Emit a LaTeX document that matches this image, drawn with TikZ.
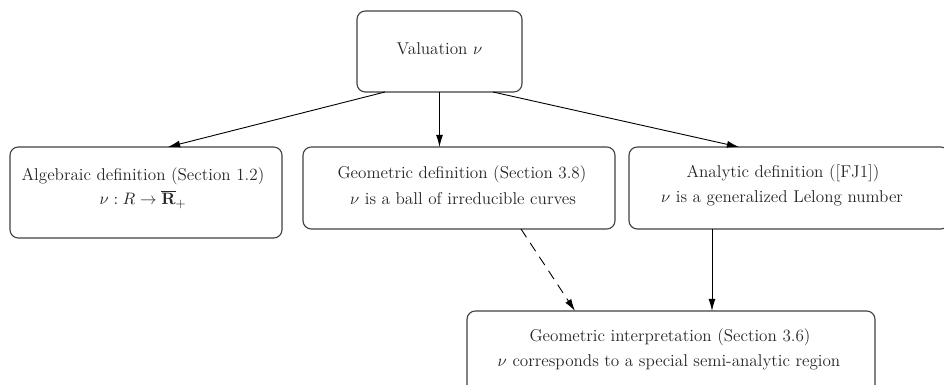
\documentclass[tikz,border=0pt]{standalone}
\usepackage{amsmath,amssymb}
\usetikzlibrary{arrows.meta,calc}
\begin{document}
\begin{tikzpicture}[x=0.66pt,y=-0.66pt,
  box/.style={draw=black!75, line width=0.75pt, rounded corners=5.5pt, inner sep=0pt, outer sep=0pt},
  txt/.style={anchor=base, inner sep=0pt, text=black!85, font=\fontsize{11.3pt}{14pt}\selectfont},
  arr/.style={-{Latex[length=8pt,width=4.6pt]}, line width=0.6pt}]
\useasboundingbox (0,0) rectangle (944,385);
\clip (0,0) rectangle (944,385);
% boxes
\node[box, minimum width=165*0.66pt, minimum height=81*0.66pt] (top) at (439.5,51.5) {};
\node[box, minimum width=272*0.66pt, minimum height=91*0.66pt] (alg) at (146,192.5) {};
\node[box, minimum width=312*0.66pt, minimum height=82*0.66pt] (geo) at (459,188) {};
\node[box, minimum width=320*0.66pt, minimum height=82*0.66pt] (ana) at (789,188) {};
\node[box, minimum width=408*0.66pt, minimum height=82*0.66pt] (int) at (671,352) {};
% texts
\node[txt] (ttop) at (439.5,55) {Valuation $\nu$};
\node[txt] (talg1) at (143,181) {Algebraic definition (Section 1.2)};
\node[txt] (talg2) at (143,205) {$\nu : R \to \overline{\mathbf{R}}_+$};
\node[txt] (tgeo1) at (462,179) {Geometric definition (Section 3.8)};
\node[txt] (tgeo2) at (463,205) {$\nu$ is a ball of irreducible curves};
\node[txt] (tana1) at (783,178) {Analytic definition ([FJ1])};
\node[txt] (tana2) at (782,203) {$\nu$ is a generalized Lelong number};
\node[txt] (tint1) at (670,342) {Geometric interpretation (Section 3.6)};
\node[txt] (tint2) at (669,367) {$\nu$ corresponds to a special semi-analytic region};
% connectors
\draw[arr] ($(top.south west)+(28,0)$) -- ($(alg.north west)+(158,0)$);
\draw[arr] (top.south) -- (top.south |- geo.north);
\draw[arr] ($(top.south west)+(136,0)$) -- ($(ana.north west)+(110,0)$);
\draw[arr, dash pattern=on 6.5pt off 4.5pt] ($(geo.south west)+(218,0)$) -- ($(int.north west)+(108,0)$);
\coordinate (anab) at ($(ana.south west)+(83,0)$);
\draw[arr] (anab) -- (anab |- int.north);
\end{tikzpicture}
\end{document}
